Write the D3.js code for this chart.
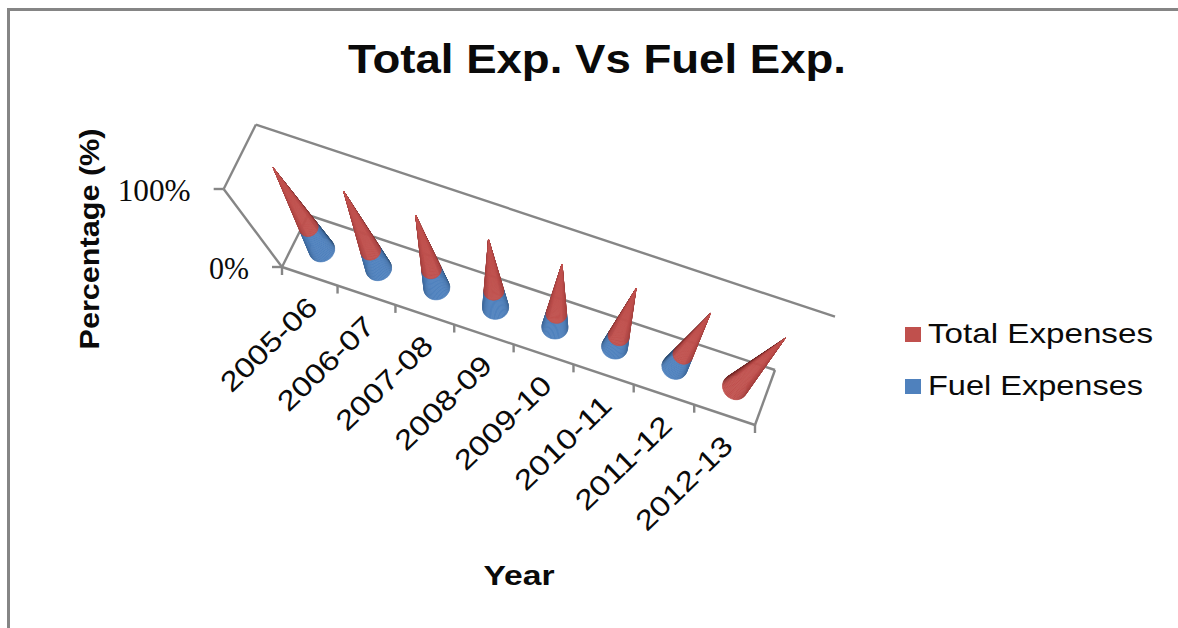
<!DOCTYPE html>
<html>
<head>
<meta charset="utf-8">
<style>
  html, body { margin: 0; padding: 0; background: #fff; }
  svg { display: block; }
  text { font-family: "Liberation Sans", Arial, sans-serif; fill: #0a0a0a; }
</style>
<script src="https://cdn.jsdelivr.net/npm/d3@7/dist/d3.min.js"></script>
</head>
<body>
<svg id="chart" width="1178" height="628"></svg>
<script>
const years = ["2005-06", "2006-07", "2007-08", "2008-09", "2009-10", "2010-11", "2011-12", "2012-13"];
const fuelExpenses = [27, 23, 25, 24, 21, 19, 23, 0];
const totalExpenses = [73, 77, 75, 76, 79, 81, 77, 100];
const valueTicks = [0, 100];
const valueTickWidths = [40, 73];
const legendItems = ["Total Expenses", "Fuel Expenses"];
const titleText = "Total Exp. Vs Fuel Exp.";
const yTitleText = "Percentage (%)";
const xTitleText = "Year";

const RED = "#c0504d", RED_DARK = "#611d1d";
const BLUE = "#4f81bd", BLUE_DARK = "#17314f";
const AXIS = "#868686";

const svg = d3.select("#chart");

// Floor of the 3D box as seen on screen, plus the point the uprights converge on.
const floor = {
  frontLeft: [282, 267], frontRight: [755, 425],
  backLeft: [308, 215], backRight: [775, 370]
};
const vanish = [525, 592];

const lift = d3.scaleLinear().domain([0, 100]).range([1, 1.24]);
const categorySpan = d3.scalePow().exponent(1.03).domain([0, years.length]).range([0, 1]);
const along = d3.interpolateArray;

// Projects category position, depth into the box and value to screen coordinates.
function project(cat, depth, value) {
  const u = categorySpan(cat);
  const front = along(floor.frontLeft, floor.frontRight)(u);
  const back = along(floor.backLeft, floor.backRight)(u);
  const p = along(front, back)(depth);
  const k = lift(value);
  return [vanish[0] + (p[0] - vanish[0]) * k, vanish[1] + (p[1] - vanish[1]) * k];
}

// Page frame: top and left edges only
const frame = svg.append("g").attr("fill", "none").attr("stroke", "#858585").attr("stroke-width", 3);
frame.append("path").attr("d", "M8.5,628V9.5H1178");

// Box outline
const line = d3.line();
const box = svg.append("g").attr("fill", "none").attr("stroke", AXIS).attr("stroke-width", 2.4);
const n = years.length;
[
  [[0, 0, 0], [n, 0, 0]],
  [[n, 0, 0], [n, 1, 0]],
  [[0, 1, 0], [n, 1, 0]],
  [[0, 0, 0], [0, 1, 0]],
  [[0, 0, 0], [0, 0, 100]],
  [[0, 0, 100], [0, 1, 100]],
  [[0, 1, 100], [n, 1, 100]]
].forEach(seg => box.append("path").attr("d", line(seg.map(s => project(...s)))));

// Category ticks on the front edge of the floor
d3.range(n + 1).forEach(i => {
  const [x, y] = project(i, 0, 0);
  box.append("path").attr("d", line([[x, y], [x, y + 8]]));
});

// Value ticks and their labels on the left wall
valueTicks.forEach((v, i) => {
  const [x, y] = project(0, 0, v);
  box.append("path").attr("d", line([[x - 10, y], [x, y]]));
  svg.append("text")
    .attr("x", x - 33).attr("y", y + 12)
    .attr("text-anchor", "end")
    .attr("font-size", 31)
    .attr("textLength", valueTickWidths[i])
    .attr("lengthAdjust", "spacingAndGlyphs")
    .style("font-family", "'Liberation Serif', serif")
    .text(v + "%");
});

// One cone per year: frustum for the lower share, tip for the upper share
const RADIUS = 13, MINOR = 11.5, STRIPS = 48;

function shade(base, dark, normalUp, edge) {
  const t = Math.min(1, Math.max(0, normalUp) * 0.8 + Math.pow(edge, 5) * 0.3);
  return d3.interpolateRgb(base, dark)(t);
}

const conesG = svg.append("g");
years.forEach((year, i) => {
  const base = project(i + 0.5, 0.5, 0);
  const tip = project(i + 0.5, 0.5, 100);
  const dx = tip[0] - base[0], dy = tip[1] - base[1];
  const len = Math.hypot(dx, dy);
  const ax = [dx / len, dy / len];
  const perp = [-ax[1], ax[0]];

  const ringPoint = (value, a) => {
    const c = project(i + 0.5, 0.5, value);
    const s = 1 - value / 100;
    return [
      c[0] + perp[0] * RADIUS * s * Math.cos(a) - ax[0] * MINOR * s * Math.sin(a),
      c[1] + perp[1] * RADIUS * s * Math.cos(a) - ax[1] * MINOR * s * Math.sin(a)
    ];
  };

  const g = conesG.append("g").attr("class", "cone").attr("data-year", year);
  const spread = 1.0;
  const step = (Math.PI + 2 * spread) / STRIPS;
  const angles = d3.range(STRIPS).map(k => -spread + step * k);
  const order = angles.slice().sort((p, q) =>
    Math.abs(q + step / 2 - Math.PI / 2) - Math.abs(p + step / 2 - Math.PI / 2));

  const segment = (v0, v1, col, colDark) => {
    if (v1 <= v0) return;
    order.forEach(a => {
      const m = a + step / 2;
      const ny = perp[1] * Math.cos(m) - ax[1] * Math.sin(m);
      const fill = shade(col, colDark, -ny, Math.abs(Math.cos(m)));
      const pts = [ringPoint(v0, a), ringPoint(v0, a + step), ringPoint(v1, a + step), ringPoint(v1, a)];
      g.append("path")
        .attr("d", line(pts) + "Z")
        .attr("fill", fill)
        .attr("stroke", fill)
        .attr("stroke-width", 0.6);
    });
  };

  segment(0, fuelExpenses[i], BLUE, BLUE_DARK);
  segment(fuelExpenses[i], fuelExpenses[i] + totalExpenses[i], RED, RED_DARK);
});

// Stretched text helper: wide glyphs at a set overall length
function label(sel, length) {
  return sel.attr("textLength", length).attr("lengthAdjust", "spacingAndGlyphs");
}

// Year labels
years.forEach((year, i) => {
  const [x, y] = project(i + 0.5, 0, 0);
  label(svg.append("text")
    .attr("transform", `translate(${x + 10},${y + 33}) rotate(-44)`)
    .attr("text-anchor", "end")
    .attr("font-size", 28)
    .text(year), 122);
});

// Titles
label(svg.append("text")
  .attr("x", 597).attr("y", 73)
  .attr("text-anchor", "middle")
  .attr("font-size", 40)
  .attr("font-weight", "bold")
  .text(titleText), 498);

label(svg.append("text")
  .attr("transform", "translate(99,239) rotate(-90)")
  .attr("text-anchor", "middle")
  .attr("font-size", 28)
  .attr("font-weight", "bold")
  .text(yTitleText), 221);

label(svg.append("text")
  .attr("x", 519).attr("y", 585)
  .attr("text-anchor", "middle")
  .attr("font-size", 28)
  .attr("font-weight", "bold")
  .text(xTitleText), 71);

// Legend
const legendY = d3.scalePoint().domain(legendItems).range([343, 395]);
const legendColor = d3.scaleOrdinal().domain(legendItems).range([RED, BLUE]);
const legendWidth = d3.scaleOrdinal().domain(legendItems).range([225, 215]);
legendItems.forEach(item => {
  svg.append("rect")
    .attr("x", 905).attr("y", legendY(item) - 16)
    .attr("width", 16).attr("height", 15)
    .attr("fill", legendColor(item));
  label(svg.append("text")
    .attr("x", 928).attr("y", legendY(item))
    .attr("font-size", 28)
    .text(item), legendWidth(item));
});
</script>
</body>
</html>
